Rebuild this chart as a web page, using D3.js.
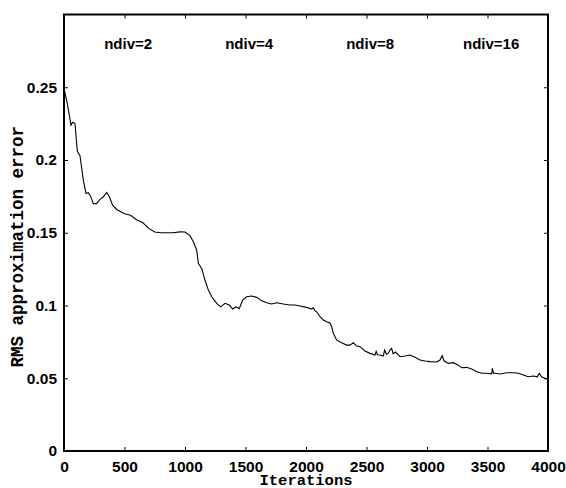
<!DOCTYPE html>
<html>
<head>
<meta charset="UTF-8">
<script src="https://d3js.org/d3.v7.min.js"></script>
<style>
    body { margin: 0; background: #fff; }
    svg { display: block; }
    .tick text { font-family: "Liberation Sans", Arial, sans-serif; font-weight: bold; font-size: 15.5px; }
    .lbl { font-family: "Liberation Mono", "Courier New", monospace; font-weight: bold; }
    .ndiv { font-family: "Liberation Sans", Arial, sans-serif; font-weight: bold; font-size: 15px; }
</style>
</head>
<body>
<svg id="chart" width="566" height="488"></svg>
<script>
// iteration vs RMS error
const iters = [0, 27, 58, 72, 91, 110, 132, 160, 182, 201, 220, 242, 270, 298, 325, 353, 375, 402, 435,
    500, 550, 600, 650, 700, 750, 800, 850, 900, 959, 1000, 1041, 1069, 1097, 1110, 1138, 1165, 1193, 1221,
    1262, 1295, 1331, 1366, 1394, 1421, 1449, 1477, 1510, 1551, 1592, 1634, 1675, 1716, 1758, 1813, 1868,
    1909, 1950, 2005, 2048, 2060, 2074, 2090, 2116, 2143, 2171, 2198, 2212, 2226, 2254, 2295, 2336, 2364,
    2391, 2419, 2446, 2488, 2529, 2570, 2580, 2590, 2612, 2639, 2650, 2665, 2680, 2694, 2708, 2720, 2740,
    2777, 2818, 2859, 2901, 2942, 2983, 3025, 3080, 3107, 3126, 3140, 3176, 3217, 3259, 3287, 3328, 3369,
    3411, 3452, 3493, 3535, 3540, 3550, 3562, 3603, 3658, 3713, 3755, 3796, 3837, 3879, 3912, 3928, 3947,
    3975, 4000]
const rmsErr = [0.249, 0.239, 0.224, 0.226, 0.225, 0.206, 0.203, 0.186, 0.177, 0.1775, 0.175, 0.170, 0.170,
    0.173, 0.1747, 0.1777, 0.1747, 0.169, 0.166,
    0.163, 0.162, 0.159, 0.157, 0.153, 0.1505, 0.150, 0.150, 0.150, 0.1506, 0.1505, 0.148, 0.1438, 0.138,
    0.129, 0.1255, 0.1175, 0.1106, 0.106, 0.1015, 0.0991, 0.1015, 0.1003, 0.0976, 0.099, 0.098, 0.1037,
    0.106, 0.1065, 0.1056, 0.1032, 0.1019, 0.101, 0.1019, 0.101, 0.1003, 0.1003, 0.0996, 0.0987, 0.0975,
    0.0985, 0.0964, 0.0955, 0.0923, 0.090, 0.0888, 0.088, 0.0854, 0.0809, 0.0762, 0.0744, 0.0728, 0.0728,
    0.0744, 0.0721, 0.0717, 0.0687, 0.0671, 0.066, 0.0685, 0.0662, 0.066, 0.0653, 0.0694, 0.0665, 0.0672,
    0.0694, 0.0706, 0.0668, 0.0680,
    0.0648, 0.0653, 0.066, 0.0644, 0.0625, 0.0618, 0.0614, 0.0612, 0.0625, 0.0655, 0.0620, 0.0602, 0.0607,
    0.059, 0.0572, 0.0575, 0.0563, 0.0545, 0.0534, 0.0534, 0.0530, 0.0568, 0.0535, 0.0534, 0.0529, 0.0538,
    0.0538, 0.0534, 0.0522, 0.051, 0.0515, 0.051, 0.0534, 0.051, 0.050, 0.0494]

const xTicks = [0, 500, 1000, 1500, 2000, 2500, 3000, 3500, 4000]
const yTicks = [0, 0.05, 0.1, 0.15, 0.2, 0.25]
const ndivLabels = ['ndiv=2', 'ndiv=4', 'ndiv=8', 'ndiv=16']
const ndivX = [530, 1530, 2530, 3530]
const ndivY = 0.276

const svg = d3.select('#chart')
const margin = { top: 14.5, bottom: 37, right: 18, left: 64 }
const width = 566, height = 488
const innerWidth = width - margin.left - margin.right
const innerHeight = height - margin.top - margin.bottom

const x = d3.scaleLinear().domain([0, 4000]).range([0, innerWidth])
const y = d3.scaleLinear().domain([0, 0.3]).range([innerHeight, 0])

const g = svg.append('g').attr('transform', `translate(${margin.left},${margin.top})`)

// axes, ticks pointing inward on all four sides
const axBottom = g.append('g').attr('transform', `translate(0,${innerHeight})`)
    .call(d3.axisBottom(x).tickValues(xTicks).tickSize(-4).tickPadding(10).tickFormat(d3.format('d')))
const axTop = g.append('g')
    .call(d3.axisTop(x).tickValues(xTicks).tickSize(-4).tickFormat(''))
const axLeft = g.append('g')
    .call(d3.axisLeft(y).tickValues(yTicks).tickSize(-4).tickPadding(7).tickFormat(d => d === 0 ? '0' : d3.format('~g')(d)))
const axRight = g.append('g').attr('transform', `translate(${innerWidth},0)`)
    .call(d3.axisRight(y).tickValues(yTicks).tickSize(-4).tickFormat(''))

;[axBottom, axTop, axLeft, axRight].forEach(a => {
    a.select('.domain').remove()
    a.selectAll('.tick line').attr('stroke', '#000').attr('stroke-width', 1)
    a.selectAll('.tick text').attr('fill', '#000')
})

g.append('rect')
    .attr('width', innerWidth).attr('height', innerHeight)
    .attr('fill', 'none').attr('stroke', '#000').attr('stroke-width', 2)

// the error curve
const line = d3.line().x((d, i) => x(iters[i])).y(d => y(d))
g.append('path')
    .datum(rmsErr)
    .attr('d', line)
    .attr('fill', 'none')
    .attr('stroke', '#000')
    .attr('stroke-width', 1.1)

// ndiv annotations
g.selectAll('.ndiv')
    .data(ndivLabels)
    .enter()
    .append('text')
    .attr('class', 'ndiv')
    .attr('x', (d, i) => x(ndivX[i]))
    .attr('y', y(ndivY))
    .attr('text-anchor', 'middle')
    .text(d => d)

// axis captions
g.append('text')
    .attr('class', 'lbl')
    .style('font-size', '15.5px')
    .attr('x', innerWidth / 2)
    .attr('y', innerHeight + 34)
    .attr('text-anchor', 'middle')
    .text('Iterations')

g.append('text')
    .attr('class', 'lbl')
    .style('font-size', '17.5px')
    .attr('transform', 'rotate(-90)')
    .attr('x', -innerHeight / 2 - 14)
    .attr('y', -41)
    .attr('text-anchor', 'middle')
    .text('RMS approximation error')
</script>
</body>
</html>
